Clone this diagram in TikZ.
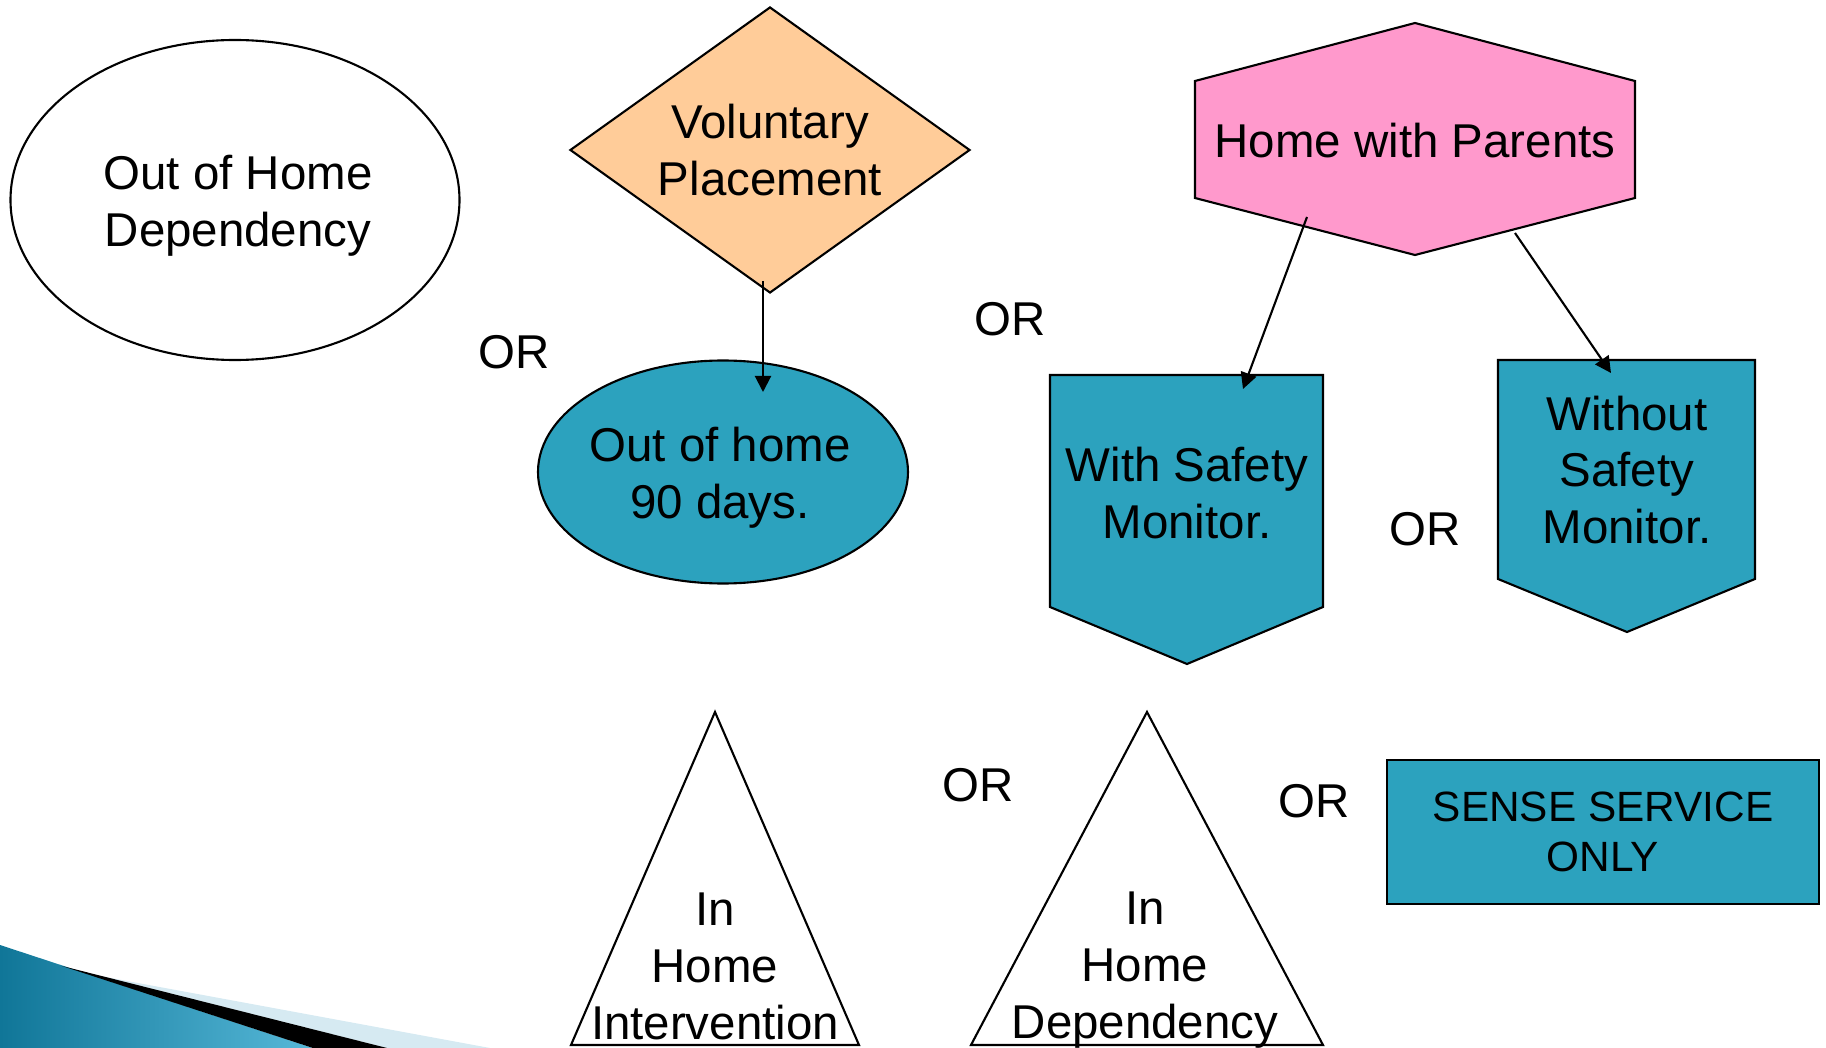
\documentclass[tikz,border=0pt]{standalone}
\usepackage{fontspec}
\setmainfont{Liberation Sans}
\usepackage{tikz}
\usetikzlibrary{shapes.geometric}
\usetikzlibrary{arrows.meta}

\definecolor{boxblue}{RGB}{44,162,190}
\definecolor{pinkish}{RGB}{255,153,204}
\definecolor{peach}{RGB}{255,204,153}
\definecolor{swooshdark}{RGB}{16,118,152}
\definecolor{swooshlight}{RGB}{86,184,216}
\definecolor{swooshpale}{RGB}{214,234,242}

\tikzset{
  shape line/.style={draw=black, line width=0.6pt},
  label text/.style={font=\fontsize{13.5}{16.2}\selectfont, align=center},
  link/.style={black, line width=0.6pt, ->, >={Triangle[length=4.6pt,width=4.6pt]}},
}

\begin{document}
\begin{tikzpicture}
\useasboundingbox (0,0) rectangle (18.26,-10.48);

% corner swoosh
\shade[left color=swooshdark, right color=swooshlight] (0,-9.45) -- (3.13,-10.48) -- (0,-10.48) -- cycle;
\fill[swooshpale] (1.00,-9.76) -- (4.90,-10.48) -- (3.87,-10.48) -- cycle;
\fill[black] (0.62,-9.66) -- (3.87,-10.48) -- (3.13,-10.48) -- cycle;

\node[ellipse, shape line, fill=white, minimum width=4.49cm, minimum height=3.20cm, inner sep=0pt] (ooh) at (2.35,-2.00) {};
\node[label text] (ooh-text) at (2.38,-2.06) {Out of Home\\ Dependency};
\node[diamond, aspect=1.4, shape line, fill=peach, minimum width=4.0cm, minimum height=2.86cm, inner sep=0pt, label text] (vp) at (7.70,-1.50) {Voluntary\\Placement};
\node[ellipse, shape line, fill=boxblue, minimum width=3.70cm, minimum height=2.23cm, inner sep=0pt] (ooh90) at (7.23,-4.72) {};
\node[label text] (ooh90-text) at (7.20,-4.78) {Out of home\\90 days.};

% hexagon
\filldraw[shape line, fill=pinkish] (11.95,-0.81) -- (14.15,-0.23) -- (16.35,-0.81) -- (16.35,-1.98) -- (14.15,-2.55) -- (11.95,-1.98) -- cycle;
\node[label text] (hp) at (14.15,-1.41) {Home with Parents};

% monitor boxes
\filldraw[shape line, fill=boxblue] (10.50,-3.75) -- (13.23,-3.75) -- (13.23,-6.07) -- (11.87,-6.64) -- (10.50,-6.07) -- cycle;
\node[label text] (wsm) at (11.87,-4.93) {With Safety\\Monitor.};
\filldraw[shape line, fill=boxblue] (14.98,-3.60) -- (17.55,-3.60) -- (17.55,-5.79) -- (16.27,-6.32) -- (14.98,-5.79) -- cycle;
\node[label text] (wosm) at (16.27,-4.70) {Without\\Safety\\Monitor.};

% triangles
\draw[shape line] (7.15,-7.12) -- (8.59,-10.45) -- (5.71,-10.45) -- cycle;
\node[label text] (ihi) at (7.15,-9.66) {In\\Home\\Intervention};
\draw[shape line] (11.47,-7.12) -- (13.23,-10.45) -- (9.71,-10.45) -- cycle;
\node[label text] (ihd) at (11.45,-9.70) {In\\Home\\Dependency};

\node[draw, line width=0.8pt, fill=boxblue, minimum width=4.32cm, minimum height=1.44cm, font=\fontsize{12.05}{14.4}\selectfont, align=center] (sso) at (16.03,-8.32) {SENSE SERVICE\\ONLY};

\foreach \x/\y [count=\i] in {5.14/-3.52, 10.10/-3.19, 14.25/-5.29, 9.78/-7.85, 13.14/-8.01} {
  \node[label text] (or\i) at (\x,\y) {OR};
}

\coordinate (vp-foot) at (7.63,-2.81);
\coordinate (ooh90-top) at (7.63,-3.92);
\coordinate (hp-left) at (13.07,-2.17);
\coordinate (wsm-top) at (12.43,-3.89);
\coordinate (hp-right) at (15.15,-2.33);
\coordinate (wosm-top) at (16.11,-3.73);

\draw[link] (vp-foot) -- (ooh90-top);
\draw[link] (hp-left) -- (wsm-top);
\draw[link] (hp-right) -- (wosm-top);
\end{tikzpicture}
\end{document}
